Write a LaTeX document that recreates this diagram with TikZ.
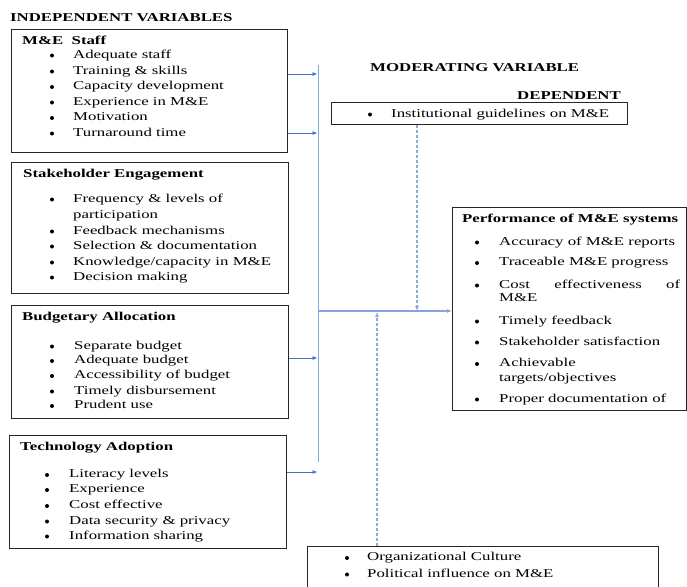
\documentclass[tikz,border=0pt]{standalone}
\usepackage{fontspec}
\setmainfont{Liberation Serif}[FakeStretch=1.4]
\usepackage{tikz}
\usetikzlibrary{arrows.meta}

\definecolor{feedblue}{HTML}{4472C4}
\definecolor{trunkblue}{HTML}{86A4DE}
\definecolor{modblue}{HTML}{8EAADB}

\tikzset{
	varbox/.style={draw=black!85, line width=0.9pt, rectangle, inner sep=0pt, anchor=north west},
	head/.style={font=\bfseries\fontsize{12}{14}\selectfont, inner sep=0pt, anchor=mid west, yshift=-1.5pt},
	entry/.style={font=\fontsize{12}{14}\selectfont, inner sep=0pt, anchor=mid west, yshift=-1.5pt},
	bul/.style={circle, fill=black, inner sep=0pt, minimum size=4pt, yshift=-1pt},
	feed/.style={draw=feedblue, line width=0.8pt, shorten >=1pt, -{Latex[length=5pt,width=4pt]}},
	trunk/.style={draw=trunkblue, line width=1.2pt},
	moder/.style={draw=modblue, line width=1.4pt, dash pattern=on 3pt off 2pt, -{Latex[length=5pt,width=4pt]}}
}

\begin{document}
\begin{tikzpicture}[x=1pt,y=-1pt]
\clip (0,0) rectangle (687,586);

\node[head] (indep) at (10,18) {INDEPENDENT VARIABLES};
\node[head] (modvar) at (370,68) {MODERATING VARIABLE};
\node[head] (depvar) at (517,96) {DEPENDENT};

% independent variables
\node[varbox, minimum width=276pt, minimum height=123pt] (staff) at (11,29) {};
\node[head] (staffhd) at (22,41) {M\&E\ \ Staff};
\foreach \y/\t [count=\i] in {54.5/Adequate staff, 70.5/Training \& skills, 86/Capacity development,
	101.5/Experience in M\&E, 117/Motivation, 132.5/Turnaround time}
{
	\node[bul] (sb\i) at (52,\y) {};
	\node[entry] (st\i) at (73,\y) {\t};
}

\node[varbox, minimum width=277pt, minimum height=131pt] (stake) at (11,162) {};
\node[head] (stakehd) at (23,174) {Stakeholder Engagement};
\foreach \y/\t [count=\i] in {198.5/Frequency \& levels of, 230.5/Feedback mechanisms,
	245.5/Selection \& documentation, 261.5/{Knowledge/capacity in M\&E}, 276.5/Decision making}
{
	\node[bul] (kb\i) at (52,\y) {};
	\node[entry] (kt\i) at (73,\y) {\t};
}
\node[entry] (kt0) at (73,214.5) {participation};

\node[varbox, minimum width=277pt, minimum height=113pt] (budget) at (11,305) {};
\node[head] (budgethd) at (22,317) {Budgetary Allocation};
\foreach \y/\t [count=\i] in {345.5/Separate budget, 360/Adequate budget, 375/Accessibility of budget,
	390.5/Timely disbursement, 405/Prudent use}
{
	\node[bul] (bb\i) at (52,\y) {};
	\node[entry] (bt\i) at (74,\y) {\t};
}

\node[varbox, minimum width=277pt, minimum height=113pt] (tech) at (9,435) {};
\node[head] (techhd) at (20,447) {Technology Adoption};
\foreach \y/\t [count=\i] in {474/Literacy levels, 489/Experience, 505/Cost effective,
	520.5/Data security \& privacy, 535.5/Information sharing}
{
	\node[bul] (tb\i) at (47,\y) {};
	\node[entry] (tt\i) at (69,\y) {\t};
}

% moderating variables
\node[varbox, minimum width=296pt, minimum height=22pt] (inst) at (331,102) {};
\node[bul] (ib1) at (370,113.5) {};
\node[entry] (it1) at (391,113.5) {Institutional guidelines on M\&E};

\node[varbox, minimum width=351pt, minimum height=60pt] (culture) at (307,546) {};
\foreach \y/\t [count=\i] in {557/Organizational Culture, 573.5/Political influence on M\&E}
{
	\node[bul] (cb\i) at (347,\y) {};
	\node[entry] (ct\i) at (367,\y) {\t};
}

% dependent variable
\node[varbox, minimum width=234pt, minimum height=203pt] (perf) at (452,207) {};
\node[head] (perfhd) at (462,218.5) {Performance of M\&E systems};
\foreach \y/\t [count=\i] in {241.5/Accuracy of M\&E reports, 262/Traceable M\&E progress,
	284.5/\makebox[181pt][s]{Cost effectiveness of}, 320.5/Timely feedback,
	341.5/Stakeholder satisfaction, 363/Achievable, 398.5/Proper documentation of}
{
	\node[bul] (pb\i) at (477,\y) {};
	\node[entry] (pt\i) at (499,\y) {\t};
}
\node[entry] (pt0) at (499,298) {M\&E};
\node[entry] (pt00) at (499,377.5) {targets/objectives};

% connectors
\coordinate (ttop) at (318.5,65);
\coordinate (tbot) at (318.5,462);
\coordinate (join) at (318.5,311);
\draw[trunk] (ttop) -- (tbot);
\draw[feed] (staff.east |- 0,74) -- (ttop |- 0,74);
\draw[feed] (staff.east |- 0,133) -- (ttop |- 0,133);
\draw[feed] (budget.east |- 0,358) -- (ttop |- 0,358);
\draw[feed] (tech.east |- 0,472) -- (ttop |- 0,472);
\draw[trunk, -{Latex[length=5pt,width=4pt]}] (join) -- (join -| perf.west);
\draw[moder] (inst.south -| 417,0) -- (join -| 417,0);
\draw[moder] (culture.north -| 377,0) -- ([yshift=-1pt]join -| 377,0);
\end{tikzpicture}
\end{document}
